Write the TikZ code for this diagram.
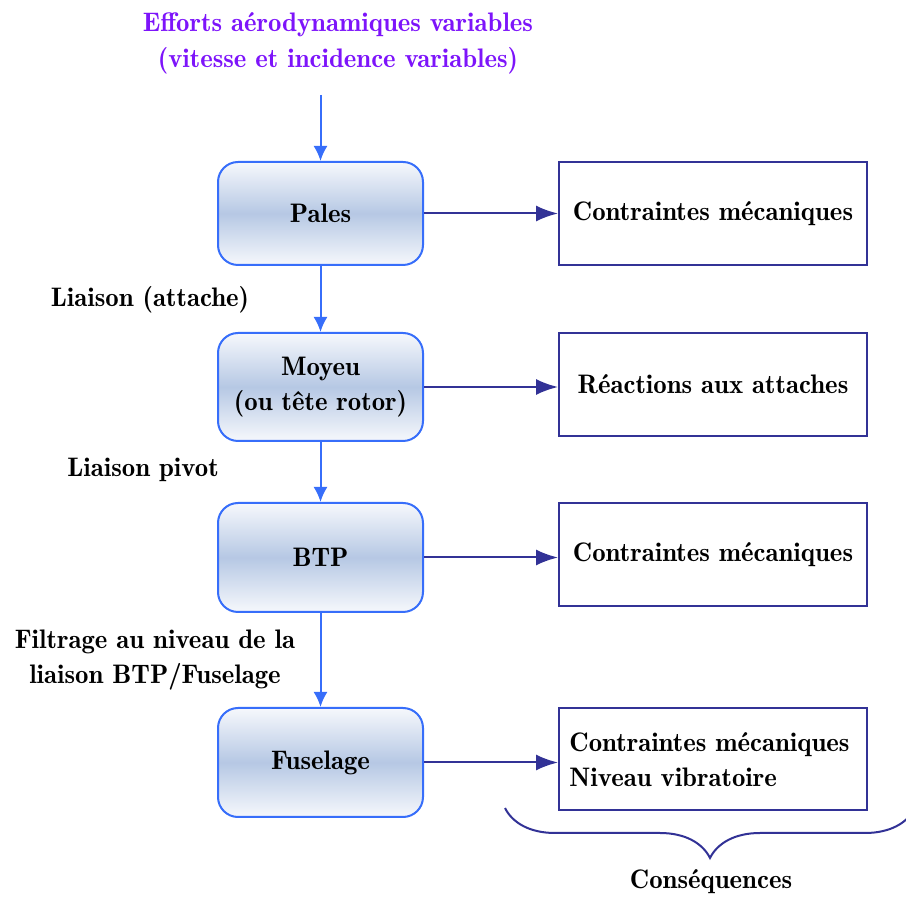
\documentclass[tikz,border=0pt]{standalone}
\usetikzlibrary{arrows.meta,decorations.pathreplacing,calc}
\definecolor{lineblue}{RGB}{55,110,250}
\definecolor{darkblue}{RGB}{50,50,150}
\definecolor{titleviolet}{RGB}{125,20,250}
\definecolor{shadetop}{RGB}{246,248,252}
\definecolor{shademid}{RGB}{182,200,228}
\tikzset{
  txt/.style={font=\fontsize{13.4}{17.5}\fontseries{b}\selectfont, align=center},
  partbox/.style={txt, draw=lineblue, line width=1pt, rounded corners=10pt,
    minimum width=102.5pt, minimum height=51.5pt,
    top color=shadetop, bottom color=shadetop, middle color=shademid},
  effbox/.style={txt, draw=darkblue, line width=1pt,
    minimum width=154pt, minimum height=51.5pt},
  bluearrow/.style={draw=lineblue, line width=1pt, -{Latex[length=7.5pt,width=7pt]}},
  darkarrow/.style={draw=darkblue, line width=1pt, -{Latex[length=11pt,width=8pt]}},
}
\begin{document}
\begin{tikzpicture}[x=0.5pt,y=-0.5pt]
\useasboundingbox (0,0) rectangle (906,897);
\node[txt, text=titleviolet, font=\fontsize{13.4}{18}\fontseries{b}\selectfont] (title) at (338,43) {Efforts aérodynamiques variables\\(vitesse et incidence variables)};
\coordinate (start) at (320.5,95);
\node[partbox] (pales) at (320.5,213.5) {Pales};
\node[partbox, minimum height=54pt] (moyeu) at (320.5,387) {Moyeu\\(ou tête rotor)};
\node[partbox, minimum height=54.5pt] (btp) at (320.5,557.5) {BTP};
\node[partbox, minimum height=54.5pt] (fus) at (320.5,762.5) {Fuselage};

\node[effbox] (r1) at (713,213.5) {Contraintes mécaniques};
\node[effbox] (r2) at (713,384.5) {Réactions aux attaches};
\node[effbox] (r3) at (713,554.5) {Contraintes mécaniques};
\node[effbox, minimum height=51pt] (r4) at (713,759) {};
\node[txt, align=left, anchor=west, inner sep=0pt] (r4t) at (569,760) {Contraintes mécaniques\\Niveau vibratoire};

\node[txt] (l1) at (150,300) {Liaison (attache)};
\node[txt] (l2) at (143,470) {Liaison pivot};
\node[txt] (l3) at (155,660) {Filtrage au niveau de la\\liaison BTP/Fuselage};

\draw[bluearrow] (start) -- (pales.north);
\draw[bluearrow] (pales.south) -- (moyeu.north);
\draw[bluearrow] (moyeu.south) -- (btp.north);
\draw[bluearrow] (btp.south) -- (fus.north);

\draw[darkarrow] (pales.east) -- (pales.east -| r1.west);
\draw[darkarrow] (moyeu.east) -- (moyeu.east -| r2.west);
\draw[darkarrow] (btp.east) -- (btp.east -| r3.west);
\draw[darkarrow] (fus.east) -- (fus.east -| r4.west);

\coordinate (bl) at (505,808);
\coordinate (br) at (915,808);
\draw[darkblue, line width=1pt, decorate, decoration={brace, mirror, amplitude=25pt}] (bl) -- (br);
\node[txt] (cons) at (711,882) {Conséquences};
\end{tikzpicture}
\end{document}
